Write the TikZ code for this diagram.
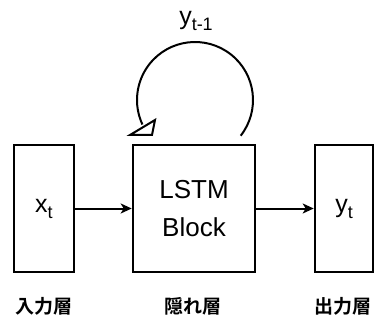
\documentclass[tikz,border=0pt]{standalone}
\usepackage{fontspec}
\setmainfont{Liberation Sans}
\newfontfamily\cjk{Noto Sans CJK JP Bold}
\usetikzlibrary{arrows.meta,calc}
\newcommand{\sub}[1]{\raisebox{-6pt}{\fontsize{18}{18}\selectfont #1}}
\begin{document}
\begin{tikzpicture}[x=1pt,y=1pt,
  layer/.style={draw, line width=2.6pt, minimum height=127pt, inner sep=0pt},
  flow/.style={line width=2pt, -{Stealth[length=11pt,width=10pt,inset=3pt]}},
  lbl/.style={font=\cjk\fontsize{19}{19}\selectfont, inner sep=0pt}]
  \useasboundingbox (0,0) rectangle (377,327);
  % input, hidden and output layers
  \node[layer, minimum width=60pt, font=\fontsize{25}{25}\selectfont] (in) at (44,118.5) {x\sub{t}};
  \node[layer, minimum width=122pt, align=center, font=\fontsize{26}{38}\selectfont] (lstm) at (194,118.5) {LSTM\\Block};
  \node[layer, minimum width=58pt, font=\fontsize{25}{25}\selectfont] (out) at (344,118.5) {y\sub{t}};
  % forward connections
  \draw[flow] (in) -- (lstm);
  \draw[flow] (lstm) -- (out);
  % recurrent loop over the hidden layer, closed by an open triangular head
  \coordinate (loopstart) at ($(195,227)+(-38:58)$);
  \draw[line width=2pt] (loopstart) arc[start angle=-38, end angle=205, radius=58] coordinate (loopend);
  \draw[line width=2pt, line join=miter, fill=white] (130,192) -- (155,207) -- (152,192) -- cycle;
  \node[font=\fontsize{25}{25}\selectfont] (prev) at (196,306) {y\sub{t-1}};
  % layer captions
  \node[lbl] (cin) at (44,21) {入力層};
  \node[lbl] (chid) at (193,21) {隠れ層};
  \node[lbl] (cout) at (343,21) {出力層};
\end{tikzpicture}
\end{document}
